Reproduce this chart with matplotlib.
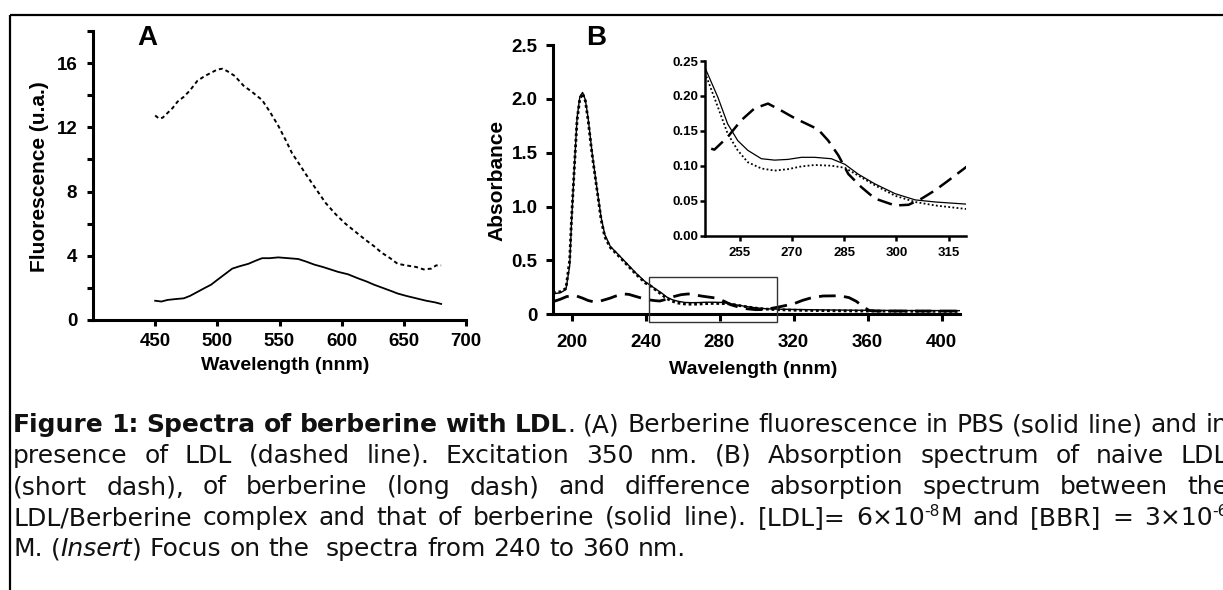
import matplotlib
matplotlib.use("Agg")
import matplotlib.pyplot as plt
from matplotlib.patches import Rectangle
from matplotlib.lines import Line2D

# ---------------- data ----------------
# Panel A: fluorescence
wl_A_ldl = [450, 453, 456, 460, 464, 468, 473, 478, 484, 490, 495, 500, 504, 508, 514, 521,
            528, 536, 542, 549, 555, 560, 566, 571, 579, 587, 595, 603, 611, 619, 626, 632,
            639, 645, 652, 660, 666, 672, 676, 680]
fl_A_ldl = [12.74, 12.55, 12.6, 12.9, 13.2, 13.6, 13.9, 14.3, 14.9, 15.2, 15.4, 15.6, 15.65,
            15.5, 15.2, 14.6, 14.2, 13.7, 13.0, 12.1, 11.2, 10.4, 9.7, 9.1, 8.2, 7.3, 6.6,
            6.0, 5.5, 5.0, 4.6, 4.2, 3.85, 3.5, 3.4, 3.3, 3.15, 3.2, 3.4, 3.4]
wl_A_pbs = [450, 455, 460, 466, 473, 478, 484, 490, 495, 500, 506, 512, 518, 525, 531, 536,
            542, 549, 557, 565, 571, 578, 585, 591, 597, 605, 613, 620, 626, 633, 640, 645,
            652, 660, 668, 675, 680]
fl_A_pbs = [1.2, 1.15, 1.25, 1.3, 1.35, 1.5, 1.75, 2.0, 2.2, 2.5, 2.85, 3.2, 3.35, 3.5, 3.7,
            3.85, 3.85, 3.9, 3.85, 3.8, 3.65, 3.45, 3.3, 3.15, 3.0, 2.85, 2.6, 2.4, 2.2, 2.0,
            1.8, 1.65, 1.5, 1.35, 1.2, 1.1, 1.0]

# Panel B: absorbance
wl_B = [190, 194, 197, 199, 200, 201.5, 203, 204.5, 206, 207.5, 209, 211, 213.5, 216, 218,
        221, 225, 230, 235, 240, 243, 245.3, 248.7, 251.5, 254.4, 257.3, 261.2, 265, 268.8,
        272.7, 276.5, 281.3, 285.2, 289, 293.8, 299.6, 305.4, 311.2, 320, 340, 360, 380, 410]
abs_ldl = [0.20, 0.21, 0.24, 0.5, 0.88, 1.35, 1.8, 2.0, 2.05, 1.98, 1.8, 1.5, 1.19, 0.88,
           0.72, 0.62, 0.55, 0.46, 0.37, 0.29, 0.26, 0.229, 0.184, 0.146, 0.122, 0.105, 0.096,
           0.093, 0.095, 0.099, 0.101, 0.100, 0.097, 0.086, 0.072, 0.057, 0.048, 0.043, 0.038,
           0.033, 0.030, 0.028, 0.027]
abs_diff = [0.19, 0.20, 0.23, 0.45, 0.85, 1.35, 1.82, 2.02, 2.06, 1.99, 1.82, 1.52, 1.2, 0.9,
            0.74, 0.63, 0.56, 0.47, 0.38, 0.30, 0.265, 0.237, 0.198, 0.160, 0.136, 0.122,
            0.110, 0.108, 0.109, 0.112, 0.112, 0.110, 0.102, 0.088, 0.074, 0.060, 0.051, 0.048,
            0.045, 0.040, 0.037, 0.035, 0.034]
wl_B_bbr = [190, 194, 197.3, 200, 202.7, 206, 209, 211.7, 215, 220.7, 224, 227.9, 231, 235.1,
            240, 242.3, 245, 247.7, 251.5, 255.4, 259.2, 263.1, 266.9, 270.8, 274.6, 277.5,
            280.4, 283.3, 286.2, 290, 293.8, 299.6, 303.5, 307.3, 311.2, 315, 320.3, 325, 330,
            336, 345, 350, 354, 357.6, 361, 365, 380, 410]
abs_bbr = [0.117, 0.14, 0.164, 0.172, 0.17, 0.15, 0.128, 0.117, 0.12, 0.149, 0.17, 0.189,
           0.185, 0.164, 0.14, 0.133, 0.127, 0.123, 0.141, 0.165, 0.182, 0.189, 0.179, 0.168,
           0.159, 0.152, 0.136, 0.115, 0.088, 0.069, 0.053, 0.043, 0.044, 0.053, 0.065, 0.079,
           0.099, 0.13, 0.155, 0.17, 0.172, 0.155, 0.12, 0.07, 0.035, 0.03, 0.03, 0.03]

A_xticks = [450, 500, 550, 600, 650, 700]
A_yticks = [0, 4, 8, 12, 16]
A_yminor = [2, 6, 10, 14, 18]
B_xticks = [200, 240, 280, 320, 360, 400]
B_yticks = [0, 0.5, 1.0, 1.5, 2.0, 2.5]
B_ylabels = ["0", "0.5", "1.0", "1.5", "2.0", "2.5"]
ins_xticks = [255, 270, 285, 300, 315]
ins_yticks = [0.00, 0.05, 0.10, 0.15, 0.20, 0.25]
zoom_box = (242, 311, -0.07, 0.35)   # x0, x1, y0, y1

caption_lines = [
    [[("Figure", "b")], [("1:", "b")], [("Spectra", "b")], [("of", "b")], [("berberine", "b")],
     [("with", "b")], [("LDL", "b"), (".", "n")], [("(A)", "n")], [("Berberine", "n")],
     [("fluorescence", "n")], [("in", "n")], [("PBS", "n")], [("(solid", "n")], [("line)", "n")],
     [("and", "n")], [("in", "n")]],
    [[(w, "n")] for w in "presence of LDL (dashed line). Excitation 350 nm. (B) Absorption spectrum of naive LDL".split(" ")],
    [[(w, "n")] for w in "(short dash), of berberine (long dash) and difference absorption spectrum between the".split(" ")],
    [[(w, "n")] for w in "LDL/Berberine complex and that of berberine (solid line). [LDL]=".split(" ")]
    + [[("6×10", "n"), ("-8", "sup"), ("M", "n")], [("and", "n")], [("[BBR]", "n")], [("=", "n")],
       [("3×10", "n"), ("-6", "sup")]],
    [[("M.", "n")], [("(", "n"), ("Insert", "i"), (")", "n")], [("Focus", "n")], [("on", "n")],
     [("the", "n")], [("", "n")], [("spectra", "n")], [("from", "n")], [("240", "n")], [("to", "n")],
     [("360", "n")], [("nm.", "n")]],
]

# ---------------- figure ----------------
W, H = 1223, 590
fig = plt.figure(figsize=(W / 100, H / 100), dpi=100)
AX_FONT = "Liberation Sans"

def fx(px):
    return px / W

def fy(py):
    return 1 - py / H

def style_axes(ax, lw=2.2, tl=6, pad=5, size=13.5):
    for s in ("top", "right"):
        ax.spines[s].set_visible(False)
    for s in ("left", "bottom"):
        ax.spines[s].set_linewidth(lw)
    ax.tick_params(which="both", direction="out", width=lw, length=tl * 0.72,
                   labelsize=size, pad=pad)
    for lab in ax.get_xticklabels() + ax.get_yticklabels():
        lab.set_fontweight("bold")
        lab.set_fontfamily(AX_FONT)

# Panel A
axA = fig.add_axes([fx(93), fy(320), fx(466 - 93), (320 - 31) / H])
axA.plot(wl_A_ldl, fl_A_ldl, color="black", lw=1.4, ls=(0, (2, 1.6)))
axA.plot(wl_A_pbs, fl_A_pbs, color="black", lw=1.3)
axA.set_xlim(400, 700)
axA.set_ylim(0, 18)
axA.set_xticks(A_xticks)
axA.set_yticks(A_yticks)
axA.set_yticks(A_yminor, minor=True)
axA.set_xticklabels([str(t) for t in A_xticks])
axA.set_yticklabels([str(t) for t in A_yticks])
style_axes(axA)
axA.tick_params(axis="y", pad=7)
axA.tick_params(axis="x", pad=5)

# Panel B main
axB = fig.add_axes([fx(553), fy(314.3), fx(960 - 553), 269.3 / H])
axB.plot(wl_B, abs_diff, color="black", lw=1.0)
axB.plot(wl_B, abs_ldl, color="black", lw=2.0, ls=(0, (1, 1)))
axB.plot(wl_B_bbr, abs_bbr, color="black", lw=2.0, ls=(0, (6, 3)))
axB.set_xlim(190, 410)
axB.set_ylim(0, 2.5)
axB.set_xticks(B_xticks)
axB.set_xticklabels([str(t) for t in B_xticks])
axB.set_yticks(B_yticks)
axB.set_yticklabels(B_ylabels)
style_axes(axB, tl=7)
axB.tick_params(axis="x", pad=9)
axB.tick_params(axis="y", pad=6)
axB.add_patch(Rectangle((zoom_box[0], zoom_box[2]), zoom_box[1] - zoom_box[0],
                        zoom_box[3] - zoom_box[2], fill=False, lw=1.0,
                        edgecolor="#333333", clip_on=False, zorder=5))

# Inset
axI = fig.add_axes([fx(705), fy(235.5), fx(966 - 705), 174.5 / H])
axI.set_facecolor("none")
axI.plot(wl_B, abs_diff, color="black", lw=0.9)
axI.plot(wl_B, abs_ldl, color="black", lw=1.3, ls=(0, (1, 1.3)))
axI.plot(wl_B_bbr, abs_bbr, color="black", lw=1.8, ls=(0, (6, 3)))
axI.set_xlim(245, 320)
axI.set_ylim(0, 0.25)
axI.set_xticks(ins_xticks)
axI.set_xticklabels([str(t) for t in ins_xticks])
axI.set_yticks(ins_yticks)
axI.set_yticklabels(["%.2f" % t for t in ins_yticks])
style_axes(axI, lw=1.8, tl=5, pad=1, size=9.5)
axI.tick_params(axis="x", pad=5)

# axis labels & panel letters
fig.text(fx(40), fy(177), "Fluorescence (u.a.)", rotation=90, ha="center", va="center",
         fontsize=15, fontweight="bold", family=AX_FONT)
fig.text(fx(285), fy(366), "Wavelength (nnm)", ha="center", va="center",
         fontsize=14, fontweight="bold", family=AX_FONT)
fig.text(fx(497), fy(180), "Absorbance", rotation=90, ha="center", va="center",
         fontsize=15, fontweight="bold", family=AX_FONT)
fig.text(fx(753), fy(370), "Wavelength (nnm)", ha="center", va="center",
         fontsize=14, fontweight="bold", family=AX_FONT)
fig.text(fx(147), fy(38), "A", ha="center", va="center", fontsize=20,
         fontweight="bold", family=AX_FONT)
fig.text(fx(596), fy(38), "B", ha="center", va="center", fontsize=20,
         fontweight="bold", family=AX_FONT)

# frame lines
fig.add_artist(Line2D([fx(10), fx(10)], [fy(15), 0], color="black", lw=1.6,
                      transform=fig.transFigure, solid_capstyle="butt"))
fig.add_artist(Line2D([fx(10), 1], [fy(15), fy(15)], color="black", lw=1.6,
                      transform=fig.transFigure, solid_capstyle="butt"))

# caption (justified)
CAP_FONT = "DejaVu Sans"
renderer = fig.canvas.get_renderer()

def make_run(text, st, size):
    kw = dict(family=CAP_FONT, fontsize=size, color="#111111", va="baseline", ha="left")
    if st == "b":
        kw["fontweight"] = "bold"
    elif st == "i":
        kw["fontstyle"] = "italic"
    elif st == "sup":
        kw["fontsize"] = size * 0.62
    return fig.text(0, 0, text, **kw)

def width_px(t):
    if t.get_text() == "":
        return 0.0
    return t.get_window_extent(renderer).width

def space_width(size):
    a = make_run("a a", "n", size); b = make_run("aa", "n", size)
    s = width_px(a) - width_px(b)
    a.remove(); b.remove()
    return s

def natural_width(line, size):
    tot = 0.0
    for word in line:
        for t, st in word:
            r = make_run(t, st, size)
            tot += width_px(r)
            r.remove()
    return tot + space_width(size) * (len(line) - 1)

# choose the size: last line as wide as in the reference, but every
# justified line must still fit with at least a normal word space
X0, X1 = 13, 1228
LAST_LINE_END = 793
ref_size = 10.0
sizes = [ref_size * (LAST_LINE_END - X0) / natural_width(caption_lines[-1], ref_size)]
for line in caption_lines[:-1]:
    sizes.append(ref_size * (X1 - X0) / natural_width(line, ref_size))
CAP_SIZE = min(sizes)
SPACE = space_width(CAP_SIZE)

baselines = [432, 463, 494, 525, 556]
for li, (line, base) in enumerate(zip(caption_lines, baselines)):
    words = []
    for word in line:
        runs = [(make_run(t, st, CAP_SIZE), st) for t, st in word]
        words.append((runs, sum(width_px(r) for r, _ in runs)))
    total = sum(w for _, w in words)
    justify = li < len(caption_lines) - 1
    gap = (X1 - X0 - total) / (len(words) - 1) if justify else SPACE
    x = X0
    for runs, w in words:
        for r, st in runs:
            yb = base - (CAP_SIZE * 0.5 if st == "sup" else 0)
            r.set_position((fx(x), fy(yb)))
            x += width_px(r)
        x += gap

fig.savefig("out.png", dpi=100)
